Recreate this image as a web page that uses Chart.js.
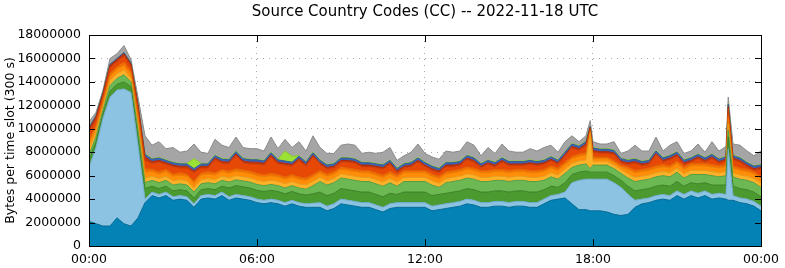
<!DOCTYPE html>
<html>
<head>
<meta charset="utf-8">
<script src="https://cdn.jsdelivr.net/npm/chart.js@4.4.1/dist/chart.umd.min.js"></script>
<style>
  html, body { margin: 0; padding: 0; background: #fff; }
  #wrap { width: 785px; height: 268px; }
</style>
</head>
<body>
<div id="wrap"><canvas id="chart" width="785" height="268"></canvas></div>
<script>
// time of each slot, hours since 00:00 UTC
const times = [
  0, 0.25, 0.5, 0.75, 1, 1.25, 1.5, 1.75, 2, 2.25, 2.5, 2.75, 3, 3.25, 3.5, 3.75,
  4, 4.25, 4.5, 4.75, 5, 5.25, 5.5, 5.75, 6, 6.25, 6.5, 6.75, 7, 7.25, 7.5, 7.75,
  8, 8.25, 8.5, 8.75, 9, 9.25, 9.5, 9.75, 10, 10.25, 10.5, 10.75, 11, 11.25, 11.5, 11.75,
  12, 12.25, 12.5, 12.75, 13, 13.25, 13.5, 13.75, 14, 14.25, 14.5, 14.75, 15, 15.25, 15.5, 15.75,
  16, 16.25, 16.5, 16.75, 17, 17.25, 17.5, 17.75, 17.9, 18, 18.25, 18.5, 18.75, 19, 19.25, 19.5, 19.75,
  20, 20.25, 20.5, 20.75, 21, 21.25, 21.5, 21.75, 22, 22.25, 22.5, 22.75, 22.83, 23, 23.25, 23.5, 23.75, 24
];
const xTickLabels = ['00:00', '06:00', '12:00', '18:00', '00:00'];
const yTickValues = [0, 2000000, 4000000, 6000000, 8000000, 10000000, 12000000, 14000000, 16000000, 18000000];
const chartTitle = 'Source Country Codes (CC) -- 2022-11-18 UTC';

// bytes per slot, millions, stacked from the bottom
const darkBlue = [
  2.1, 1.9, 1.7, 1.7, 2.4, 1.9, 1.7, 2.4, 3.7,
  4.3, 4.1, 4.3, 3.9, 4.0, 3.9, 3.3, 4.0, 4.1, 4.0, 4.3, 3.9, 4.1, 4.0, 3.9, 3.7, 3.6, 3.7, 3.6, 3.4, 3.6, 3.4, 3.3, 3.3,
  3.3, 3.0, 3.2, 3.6, 3.5, 3.4, 3.3, 3.3, 3.1, 2.9, 3.2, 3.3, 3.3, 3.3, 3.3, 3.3, 3.0, 3.1, 3.2, 3.3, 3.4, 3.6, 3.5, 3.3, 3.3, 3.4, 3.4, 3.3, 3.4, 3.4, 3.3, 3.3,
  3.6, 3.9, 4.0, 4.1, 3.6, 3.1, 3.1, 3.0, 3.0, 3.0, 2.9, 2.7, 2.6, 2.7, 3.3, 3.6, 3.7, 3.9, 4.0, 3.9, 4.3, 4.0, 4.3, 4.1, 4.3, 4.0, 4.1, 4.0, 3.9, 3.9, 3.7, 3.6, 3.4, 3.0
];
const lightBlue = [
  4.6, 6.5, 9.2, 11.0, 10.9, 11.5, 11.4, 6.2, 0.3,
  0.3, 0.3, 0.3, 0.3, 0.3, 0.3, 0.3, 0.3, 0.3, 0.3, 0.3, 0.3, 0.3, 0.3, 0.3, 0.3, 0.3, 0.3, 0.3, 0.3, 0.3, 0.3, 0.3, 0.35,
  0.4, 0.4, 0.4, 0.4, 0.4, 0.4, 0.4, 0.4, 0.4, 0.4, 0.4, 0.4, 0.4, 0.4, 0.4, 0.4, 0.4, 0.4, 0.4, 0.4, 0.4, 0.4, 0.4, 0.4, 0.4, 0.4, 0.4, 0.4, 0.4, 0.4, 0.4, 0.4,
  0.4, 0.4, 0.4, 0.5, 1.8, 2.5, 2.6, 2.7, 2.7, 2.7, 2.8, 2.7, 2.4, 1.7, 0.6, 0.4, 0.4, 0.4, 0.4, 0.4, 0.4, 0.4, 0.4, 0.4, 0.4, 0.4, 0.4, 0.4, 4.4, 0.4, 0.4, 0.4, 0.4, 0.4
];
const darkGreen = [
  0.6, 0.5, 0.4, 0.5, 0.5, 0.6, 0.5, 0.7, 0.9,
  0.5, 0.5, 0.5, 0.5, 0.5, 0.5, 0.5, 0.5, 0.5, 0.5, 0.5, 0.75, 0.75, 0.75, 0.75, 0.75, 0.75, 0.75, 0.75, 0.75, 0.75, 0.75, 0.75, 0.8,
  0.9, 0.9, 0.9, 0.9, 0.9, 0.9, 0.9, 0.9, 0.9, 0.9, 0.9, 0.7, 0.9, 0.9, 0.9, 0.9, 0.9, 0.9, 0.9, 0.9, 0.9, 0.9, 0.9, 0.9, 0.9, 0.9, 0.9, 0.9, 0.9, 0.9, 0.9, 0.9,
  0.8, 0.8, 0.6, 0.8, 0.7, 0.7, 0.7, 0.6, 0.6, 0.6, 0.6, 0.6, 0.6, 0.7, 0.8, 0.8, 0.8, 0.8, 0.8, 0.8, 0.8, 0.7, 0.7, 0.8, 0.7, 0.8, 0.7, 0.8, 1.0, 0.8, 0.8, 0.8, 0.8, 0.8
];
const lightGreen = [
  0.5, 0.4, 0.3, 0.5, 0.5, 0.6, 0.4, 0.6, 0.5,
  0.5, 0.5, 0.5, 0.5, 0.5, 0.5, 0.5, 0.5, 0.5, 0.5, 0.5, 0.5, 0.5, 0.5, 0.5, 0.5, 0.5, 0.5, 0.5, 0.5, 0.5, 0.5, 0.5, 0.7,
  0.9, 0.9, 0.9, 0.9, 0.9, 0.9, 0.9, 0.9, 0.9, 0.9, 0.9, 0.7, 0.9, 0.9, 0.9, 0.9, 0.9, 0.6, 0.9, 0.9, 0.9, 0.9, 0.9, 0.9, 0.9, 0.9, 0.9, 0.9, 0.9, 0.9, 0.9, 0.9,
  0.8, 0.8, 0.7, 0.8, 0.6, 0.6, 0.6, 0.3, 0.6, 0.6, 0.6, 0.6, 0.6, 0.7, 0.8, 0.8, 0.8, 0.8, 0.8, 0.8, 0.8, 0.7, 0.7, 0.8, 0.7, 0.8, 0.7, 0.8, 0.6, 0.8, 0.8, 0.8, 0.8, 0.8
];
const yellowOrange = [
  0.5, 0.4, 0.3, 0.4, 0.4, 0.4, 0.3, 0.5, 0.4,
  0.35, 0.35, 0.35, 0.35, 0.35, 0.35, 0.35, 0.35, 0.35, 0.35, 0.35, 0.35, 0.35, 0.35, 0.35, 0.35, 0.35, 0.35, 0.35, 0.35, 0.35, 0.35, 0.35, 0.35,
  0.35, 0.35, 0.35, 0.35, 0.35, 0.35, 0.35, 0.35, 0.35, 0.35, 0.35, 0.35, 0.35, 0.35, 0.35, 0.35, 0.35, 0.35, 0.35, 0.35, 0.35, 0.35, 0.35, 0.35, 0.35, 0.35, 0.35, 0.35, 0.35, 0.35, 0.35, 0.35,
  0.35, 0.35, 0.35, 0.35, 0.35, 0.35, 0.35, 3.0, 0.3, 0.3, 0.3, 0.3, 0.3, 0.35, 0.35, 0.35, 0.35, 0.35, 0.35, 0.35, 0.35, 0.35, 0.35, 0.35, 0.35, 0.35, 0.35, 0.35, 0.5, 0.35, 0.35, 0.35, 0.35, 0.35
];
const orange = [
  0.5, 0.4, 0.3, 0.4, 0.4, 0.4, 0.4, 0.5, 0.5,
  0.4, 0.4, 0.4, 0.4, 0.4, 0.4, 0.4, 0.4, 0.4, 0.4, 0.4, 0.4, 0.4, 0.4, 0.4, 0.4, 0.4, 0.4, 0.4, 0.4, 0.4, 0.4, 0.4, 0.4,
  0.4, 0.4, 0.4, 0.4, 0.4, 0.4, 0.4, 0.4, 0.4, 0.4, 0.4, 0.4, 0.4, 0.4, 0.4, 0.4, 0.4, 0.4, 0.4, 0.4, 0.4, 0.4, 0.4, 0.4, 0.4, 0.4, 0.4, 0.4, 0.4, 0.4, 0.4, 0.4,
  0.4, 0.4, 0.4, 0.4, 0.4, 0.4, 0.4, 0.1, 0.25, 0.25, 0.25, 0.25, 0.25, 0.4, 0.4, 0.4, 0.4, 0.4, 0.4, 0.4, 0.4, 0.4, 0.4, 0.4, 0.4, 0.4, 0.4, 0.4, 0.5, 0.4, 0.4, 0.4, 0.4, 0.4
];
const darkOrange = [
  0.3, 0.2, 0.2, 0.2, 0.2, 0.3, 0.2, 0.3, 0.3,
  0.2, 0.2, 0.2, 0.2, 0.2, 0.2, 0.2, 0.2, 0.2, 0.2, 0.2, 0.2, 0.2, 0.2, 0.2, 0.2, 0.2, 0.2, 0.2, 0.2, 0.2, 0.2, 0.2, 0.2,
  0.2, 0.2, 0.2, 0.2, 0.2, 0.2, 0.2, 0.2, 0.2, 0.2, 0.2, 0.2, 0.2, 0.2, 0.2, 0.2, 0.2, 0.2, 0.2, 0.2, 0.2, 0.2, 0.2, 0.2, 0.2, 0.2, 0.2, 0.2, 0.2, 0.2, 0.2, 0.2,
  0.2, 0.2, 0.2, 0.2, 0.2, 0.2, 0.2, 0.1, 0.15, 0.15, 0.15, 0.15, 0.15, 0.2, 0.2, 0.2, 0.2, 0.2, 0.2, 0.2, 0.2, 0.2, 0.2, 0.2, 0.2, 0.2, 0.2, 0.2, 0.3, 0.2, 0.2, 0.2, 0.2, 0.2
];
const red = [
  0.6, 0.5, 0.4, 0.5, 0.4, 0.5, 0.4, 0.6, 0.7,
  0.5, 0.8, 0.4, 0.6, 0.4, 0.5, 0.7, 0.4, 0.3, 1.1, 0.5, 0.6, 1.1, 0.6, 0.6, 0.8, 0.8, 1.4, 0.9, 1.0, 0.7, 1.4, 1.0, 1.5,
  0.5, 0.4, 0.3, 0.4, 0.5, 0.5, 0.3, 0.3, 0.4, 0.5, 0.6, 0.2, 0.2, 0.3, 0.7, 0.3, 0.3, 0.3, 0.4, 0.3, 0.3, 0.6, 0.5, 0.2, 0.5, 0.2, 0.6, 0.4, 0.3, 0.3, 0.5, 0.4,
  0.4, 0.4, 0.3, 0.5, 0.7, 0.3, 0.6, 0.2, 0.4, 0.3, 0.3, 0.5, 0.2, 0.2, 0.6, 0.3, 0.3, 0.9, 0.2, 0.5, 0.4, 0.2, 0.1, 0.4, 0.1, 0.5, 0.2, 0.3, 0.5, 0.5, 0.5, 0.2, 0.1, 0.6
];
const darkRed = [
  0.3, 0.2, 0.2, 0.2, 0.2, 0.2, 0.2, 0.2, 0.3,
  0.15, 0.15, 0.15, 0.15, 0.15, 0.15, 0.15, 0.15, 0.15, 0.15, 0.15, 0.15, 0.15, 0.15, 0.15, 0.15, 0.15, 0.15, 0.15, 0.15, 0.15, 0.15, 0.15, 0.15,
  0.15, 0.15, 0.15, 0.15, 0.15, 0.15, 0.15, 0.15, 0.15, 0.15, 0.15, 0.15, 0.15, 0.15, 0.15, 0.15, 0.15, 0.15, 0.15, 0.15, 0.15, 0.15, 0.15, 0.15, 0.15, 0.15, 0.15, 0.15, 0.15, 0.15, 0.15, 0.15,
  0.15, 0.15, 0.15, 0.15, 0.15, 0.15, 0.15, 0.1, 0.15, 0.15, 0.15, 0.15, 0.15, 0.15, 0.15, 0.15, 0.15, 0.15, 0.15, 0.15, 0.15, 0.15, 0.15, 0.15, 0.15, 0.15, 0.15, 0.15, 0.2, 0.15, 0.15, 0.15, 0.15, 0.15
];
const blue = [
  0.1, 0.1, 0.1, 0.1, 0.1, 0.1, 0.1, 0.1, 0.2,
  0.2, 0.2, 0.2, 0.2, 0.2, 0.2, 0.2, 0.2, 0.2, 0.2, 0.2, 0.2, 0.2, 0.2, 0.2, 0.2, 0.2, 0.2, 0.2, 0.2, 0.2, 0.2, 0.2, 0.2,
  0.2, 0.2, 0.2, 0.2, 0.2, 0.2, 0.2, 0.2, 0.2, 0.2, 0.2, 0.2, 0.2, 0.2, 0.2, 0.2, 0.2, 0.2, 0.2, 0.2, 0.2, 0.2, 0.2, 0.2, 0.2, 0.2, 0.2, 0.2, 0.2, 0.2, 0.2, 0.2,
  0.2, 0.2, 0.2, 0.2, 0.2, 0.2, 0.2, 0.1, 0.2, 0.2, 0.2, 0.2, 0.2, 0.2, 0.2, 0.2, 0.2, 0.2, 0.2, 0.2, 0.2, 0.2, 0.2, 0.2, 0.2, 0.2, 0.2, 0.2, 0.2, 0.2, 0.2, 0.2, 0.2, 0.2
];
const lime = [
  0, 0, 0, 0, 0, 0, 0, 0, 0.05,
  0.05, 0.05, 0.05, 0.05, 0.05, 0.05, 0.85, 0.05, 0.05, 0.05, 0.05, 0.05, 0.05, 0.05, 0.05, 0.05, 0.05, 0.05, 0.05, 0.85, 0.5, 0.05, 0.05, 0.05,
  0.05, 0.05, 0.05, 0.05, 0.05, 0.05, 0.05, 0.05, 0.05, 0.05, 0.05, 0.05, 0.05, 0.05, 0.05, 0.05, 0.05, 0.05, 0.05, 0.05, 0.05, 0.05, 0.05, 0.05, 0.05, 0.05, 0.05, 0.05, 0.05, 0.05, 0.05, 0.05,
  0.05, 0.05, 0.05, 0.05, 0.05, 0.05, 0.05, 0.05, 0.05, 0.05, 0.05, 0.05, 0.05, 0.05, 0.05, 0.05, 0.05, 0.05, 0.05, 0.05, 0.05, 0.05, 0.05, 0.05, 0.05, 0.05, 0.05, 0.05, 0.05, 0.05, 0.05, 0.05, 0.05, 0.05
];
const gray = [
  0.5, 0.3, 0.2, 0.5, 0.4, 0.6, 0.3, 0.6, 1.55,
  1.15, 1.35, 0.95, 1.25, 0.95, 1.05, 1.25, 0.95, 0.85, 1.35, 1.15, 1.0, 1.2, 0.9, 0.9, 0.9, 0.8, 1.3, 0.9, 1.0, 0.75, 1.2, 0.9, 1.4,
  1.05, 0.95, 0.85, 1.05, 1.15, 1.15, 0.75, 0.85, 0.85, 1.05, 1.05, 0.65, 0.65, 0.85, 1.15, 0.75, 0.75, 0.75, 0.95, 0.85, 0.85, 1.15, 1.05, 0.65, 1.05, 0.75, 1.15, 0.85, 0.75, 0.75, 0.95, 0.85,
  1.05, 0.95, 0.65, 0.85, 0.65, 0.35, 0.45, 0.45, 0.5, 0.4, 0.4, 0.7, 0.4, 0.75, 1.15, 0.85, 0.75, 1.15, 0.55, 0.85, 0.85, 0.55, 0.55, 0.85, 0.45, 1.05, 0.65, 0.85, 0.55, 0.95, 1.05, 0.95, 0.85, 1.15
];

const series = [
  { label: 'cc1', values: darkBlue, fill: '#0382b5', line: '#036b95' },
  { label: 'cc2', values: lightBlue, fill: '#8cc3e2', line: '#71abcc' },
  { label: 'cc3', values: darkGreen, fill: '#4b9a30', line: '#3c8126' },
  { label: 'cc4', values: lightGreen, fill: '#6cb953', line: '#589d43' },
  { label: 'cc5', values: yellowOrange, fill: '#ffb128', line: '#e69a1a' },
  { label: 'cc6', values: orange, fill: '#ff8d08', line: '#e67a00' },
  { label: 'cc7', values: darkOrange, fill: '#f76d00', line: '#dc5f00' },
  { label: 'cc8', values: red, fill: '#e84806', line: '#cc3c04' },
  { label: 'cc9', values: darkRed, fill: '#c4320a', line: '#a82a08' },
  { label: 'cc10', values: blue, fill: '#3b66b8', line: '#30559c' },
  { label: 'cc11', values: lime, fill: '#9be234', line: '#84c828' },
  { label: 'other', values: gray, fill: '#a5a5a5', line: '#8a8a8a' }
];

const MILLION = 1000000;

// gnuplot-like frame: box, ticks pointing inwards, title over the plot
const frame = {
  id: 'frame',
  afterDatasetsDraw(chart) {
    const { ctx, chartArea: a, scales } = chart;
    ctx.save();
    ctx.strokeStyle = '#000';
    ctx.lineWidth = 1;
    ctx.beginPath();
    yTickValues.forEach(v => {
      const py = Math.round(scales.y.getPixelForValue(v)) + 0.5;
      ctx.moveTo(a.left, py); ctx.lineTo(a.left + 6, py);
      ctx.moveTo(a.right, py); ctx.lineTo(a.right - 6, py);
    });
    [0, 6, 12, 18, 24].forEach(v => {
      const px = Math.round(scales.x.getPixelForValue(v)) + 0.5;
      ctx.moveTo(px, a.top); ctx.lineTo(px, a.top + 7);
      ctx.moveTo(px, a.bottom); ctx.lineTo(px, a.bottom - 7);
    });
    ctx.stroke();
    ctx.strokeRect(Math.round(a.left) + 0.5, Math.round(a.top) + 0.5,
      Math.round(a.right - a.left), Math.round(a.bottom - a.top));

    ctx.fillStyle = '#000';
    ctx.font = '15px "DejaVu Sans"';
    ctx.textAlign = 'center';
    ctx.textBaseline = 'middle';
    ctx.fillText(chartTitle, (a.left + a.right) / 2, 12);
    ctx.restore();
  }
};

Chart.defaults.font.family = 'DejaVu Sans';
Chart.defaults.color = '#000';

new Chart(document.getElementById('chart'), {
  type: 'line',
  data: {
    datasets: series.map((s, i) => ({
      label: s.label,
      data: times.map((t, k) => ({ x: t, y: s.values[k] * MILLION })),
      backgroundColor: s.fill,
      borderColor: s.line,
      borderWidth: 1,
      pointRadius: 0,
      tension: 0,
      fill: i === 0 ? 'origin' : '-1'
    }))
  },
  options: {
    responsive: false,
    animation: false,
    layout: { padding: { left: 0, right: 20, top: 35, bottom: 0 } },
    plugins: {
      legend: { display: false },
      tooltip: { enabled: false },
      title: { display: false }
    },
    scales: {
      x: {
        type: 'linear',
        min: 0,
        max: 24,
        afterFit: s => { s.height = 22; },
        afterBuildTicks: s => { s.ticks = [0, 6, 12, 18, 24].map(v => ({ value: v })); },
        ticks: {
          font: { size: 12.5 },
          padding: 6,
          maxRotation: 0,
          callback: (v, i) => xTickLabels[i]
        },
        grid: {
          drawTicks: false,
          color: c => (c.tick && (c.tick.value === 0 || c.tick.value === 24)) ? 'rgba(0,0,0,0)' : '#a8a8a8'
        },
        border: { display: false, dash: [1, 5] }
      },
      y: {
        stacked: true,
        min: 0,
        max: 18000000,
        afterFit: s => { s.width = 89; },
        afterBuildTicks: s => { s.ticks = yTickValues.map(v => ({ value: v })); },
        ticks: {
          font: { size: 12.5 },
          padding: 8,
          callback: v => String(v)
        },
        title: {
          display: true,
          text: 'Bytes per time slot (300 s)',
          font: { size: 12.5 },
          padding: { top: 3, bottom: 0 }
        },
        grid: {
          drawTicks: false,
          color: c => (c.tick && (c.tick.value === 0 || c.tick.value === 18000000)) ? 'rgba(0,0,0,0)' : '#a8a8a8'
        },
        border: { display: false, dash: [1, 5] }
      }
    }
  },
  plugins: [frame]
});
</script>
</body>
</html>
